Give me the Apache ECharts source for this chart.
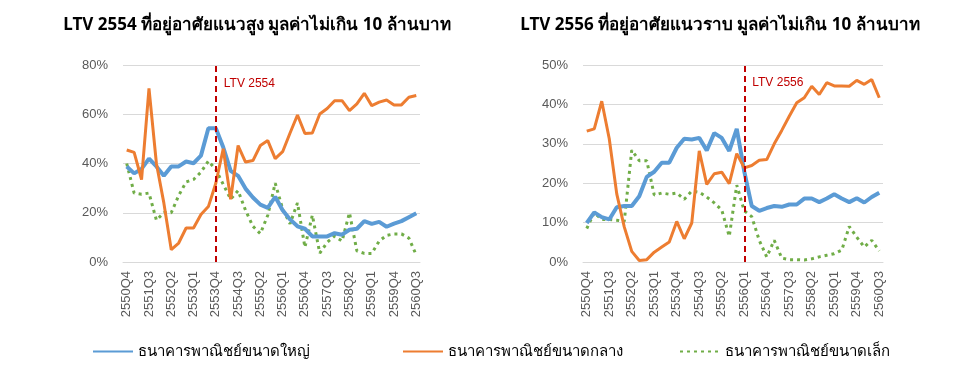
<!DOCTYPE html>
<html>
<head>
<meta charset="utf-8">
<script src="https://cdn.jsdelivr.net/npm/echarts@6/dist/echarts.min.js"></script>
<style>
html,body{margin:0;padding:0;background:#fff;}
#chart{width:960px;height:375px;}
</style>
</head>
<body>
<div id="chart"></div>
<script>
// Quarter categories 2550Q4 .. 2560Q3
const categories = [
  '2550Q4',
  '2551Q1','2551Q2','2551Q3','2551Q4',
  '2552Q1','2552Q2','2552Q3','2552Q4',
  '2553Q1','2553Q2','2553Q3','2553Q4',
  '2554Q1','2554Q2','2554Q3','2554Q4',
  '2555Q1','2555Q2','2555Q3','2555Q4',
  '2556Q1','2556Q2','2556Q3','2556Q4',
  '2557Q1','2557Q2','2557Q3','2557Q4',
  '2558Q1','2558Q2','2558Q3','2558Q4',
  '2559Q1','2559Q2','2559Q3','2559Q4',
  '2560Q1','2560Q2','2560Q3'
];

const seriesNames = ['ธนาคารพาณิชย์ขนาดใหญ่', 'ธนาคารพาณิชย์ขนาดกลาง', 'ธนาคารพาณิชย์ขนาดเล็ก'];

const titleLeft = 'LTV 2554 ที่อยู่อาศัยแนวสูง มูลค่าไม่เกิน 10 ล้านบาท';
const titleRight = 'LTV 2556 ที่อยู่อาศัยแนวราบ มูลค่าไม่เกิน 10 ล้านบาท';

// Left panel (%, high-rise)
const leftLarge = [38.8,36,37.8,42,38.8,35,38.8,38.8,40.8,40.1,43.2,54.3,54.3,46.6,37,35,29.8,26.2,23.3,22,
                   26.5,21,17.3,14.5,13.5,10.4,10.4,10.4,11.7,11.1,13.1,13.5,16.6,15.5,16.3,14.3,15.6,16.6,18.2,19.8];
const leftMedium = [45.5,44.5,33.5,70.5,40,24,5,7.7,13.8,13.8,19.3,22.5,32,46,25.5,47.3,40.6,41.2,47.3,49.3,
                    42,44.8,52.4,59.7,52.2,52.4,60.1,62.3,65.5,65.5,61.5,64.2,68.5,63.5,64.9,65.8,63.8,63.8,66.9,67.6];
const leftSmall = [40,28,27.5,28,17,20,20,27,32.5,33.5,36.5,41,37.5,31.5,25.5,29,21,14.5,11.5,19,
                   32,21.5,15.5,24,6,19,3.6,8,10.5,8.5,20,4.5,3.5,3.5,8.5,10.8,11.4,11.4,9.7,2.8];

// Right panel (%, low-rise)
const rightLarge = [9.9,12.6,11.4,10.8,13.9,14.2,14.2,16.7,21.6,22.9,25.2,25.2,29,31.3,31.1,31.5,28.3,32.7,31.5,28.2,
                    33.8,23,14.2,13,13.7,14.2,14,14.6,14.6,16.1,16.1,15.2,16.1,17.2,16.1,15.2,16.2,15.1,16.5,17.6];
const rightMedium = [33.2,33.8,40.8,31.3,17.3,8.9,2.7,0.4,0.6,2.5,3.8,5.1,10.3,5.9,9.9,28.2,19.7,22.4,22.8,19.9,
                     27.5,23.9,24.5,25.8,26,30,33.4,37,40.4,41.7,44.6,42.5,45.5,44.7,44.7,44.6,46.1,45.1,46.3,41.7];
const rightSmall = [8.5,12.5,10.8,10.8,10.6,10.3,28.4,25.7,25.7,17,17.5,17.2,17.5,15.9,18,17.7,16.5,15,13.2,6.5,
                    19.5,13,11.5,5.5,1.3,5.5,1,0.6,0.6,0.5,0.8,1.3,1.7,2.1,3,9,6.3,3.8,5.5,2.8];

const leftTicks = {min: 0, max: 80, interval: 20};
const rightTicks = {min: 0, max: 50, interval: 10};

const ltvMarks = [
  {cat: '2553Q4', label: 'LTV 2554', labelY: 72.5},
  {cat: '2556Q1', label: 'LTV 2556', labelY: 45.5}
];

const colors = ['#5B9BD5', '#ED7D31', '#70AD47'];
const FONT = '"Noto Sans", "DejaVu Sans", sans-serif';

function xAxis(gridIndex) {
  return {
    type: 'category', gridIndex: gridIndex, data: categories, boundaryGap: true,
    axisLine: {show: true, lineStyle: {color: '#D9D9D9', width: 1}},
    axisTick: {show: false},
    axisLabel: {interval: 2, rotate: 90, color: '#595959', fontSize: 13, fontFamily: 'Liberation Sans', margin: 9}
  };
}
function yAxis(gridIndex, t) {
  return {
    type: 'value', gridIndex: gridIndex, min: t.min, max: t.max, interval: t.interval,
    axisLine: {show: false}, axisTick: {show: false},
    splitLine: {lineStyle: {color: '#D9D9D9', width: 1}},
    axisLabel: {formatter: '{value}%', color: '#595959', fontSize: 13, fontFamily: 'Liberation Sans', margin: 15}
  };
}
function mkSeries(idx, data, colorIdx, name, mark) {
  const dotted = colorIdx === 2;
  const s = {
    name: name, type: 'line', xAxisIndex: idx, yAxisIndex: idx, data: data,
    symbol: 'none', smooth: false, animation: false,
    lineStyle: {color: colors[colorIdx], width: colorIdx === 0 ? 4 : 3, type: dotted ? [3, 4] : 'solid'},
    itemStyle: {color: colors[colorIdx]},
    z: colorIdx === 0 ? 3 : (colorIdx === 1 ? 4 : 2)
  };
  if (mark) {
    s.markLine = {
      silent: true, symbol: ['none', 'none'],
      lineStyle: {color: '#C00000', type: [6, 4], width: 2},
      label: {show: false},
      data: [{xAxis: mark.cat}]
    };
    s.markPoint = {
      silent: true, symbol: 'circle', symbolSize: 0,
      label: {show: true, formatter: mark.label, position: 'right', distance: 8, color: '#C00000', fontSize: 12, fontFamily: 'Liberation Sans'},
      data: [{coord: [mark.cat, mark.labelY]}]
    };
  }
  return s;
}

function legendItem(nameIdx, left) {
  return {
    data: [seriesNames[nameIdx]], left: left, top: 339, itemWidth: 40, itemHeight: 4, itemGap: 14,
    itemStyle: {opacity: 0},
    textStyle: {fontSize: 15, color: '#000', fontFamily: FONT}
  };
}

const chart = echarts.init(document.getElementById('chart'), null, {renderer: 'canvas'});
chart.setOption({
  animation: false,
  textStyle: {fontFamily: FONT},
  title: [
    {text: titleLeft, left: 252, top: 12, textAlign: 'center', textStyle: {fontSize: 17, fontWeight: 'bold', color: '#000', fontFamily: FONT}},
    {text: titleRight, left: 715, top: 12, textAlign: 'center', textStyle: {fontSize: 17, fontWeight: 'bold', color: '#000', fontFamily: FONT}}
  ],
  legend: [legendItem(0, 87), legendItem(1, 397), legendItem(2, 674)],
  grid: [
    {left: 123, right: 540, top: 65, bottom: 113},
    {left: 583, right: 77, top: 65, bottom: 113}
  ],
  xAxis: [xAxis(0), xAxis(1)],
  yAxis: [yAxis(0, leftTicks), yAxis(1, rightTicks)],
  series: [
    mkSeries(0, leftSmall, 2, seriesNames[2], null),
    mkSeries(0, leftLarge, 0, seriesNames[0], null),
    mkSeries(0, leftMedium, 1, seriesNames[1], ltvMarks[0]),
    mkSeries(1, rightSmall, 2, seriesNames[2], null),
    mkSeries(1, rightLarge, 0, seriesNames[0], null),
    mkSeries(1, rightMedium, 1, seriesNames[1], ltvMarks[1])
  ]
});
</script>
</body>
</html>
